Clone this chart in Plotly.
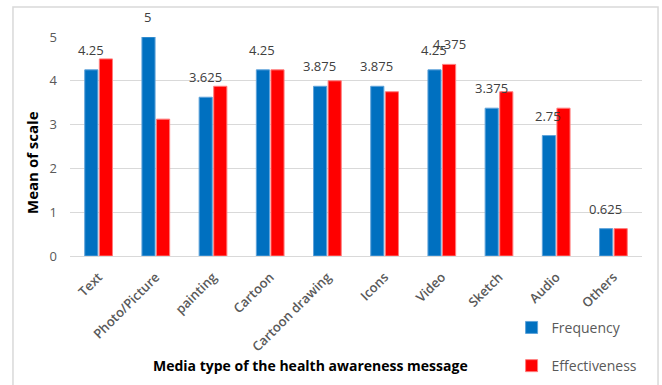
import plotly.graph_objects as go

categories = ["Text", "Photo/Picture", "painting", "Cartoon", "Cartoon drawing",
              "Icons", "Video", "Sketch", "Audio", "Others"]
frequency = [4.25, 5, 3.625, 4.25, 3.875, 3.875, 4.25, 3.375, 2.75, 0.625]
effectiveness = [4.5, 3.125, 3.875, 4.25, 4.0, 3.75, 4.375, 3.75, 3.375, 0.625]
effectiveness_labelled = ["Video"]
y_ticks = [0, 1, 2, 3, 4, 5]

FONT = "Open Sans, sans-serif"
GRAY = "#595959"

fig = go.Figure()
fig.add_trace(go.Bar(
    x=categories, y=frequency, name="Frequency", legendgroup="f",
    marker=dict(color="#0070C0", line=dict(color="#5FA3DA", width=1)),
))
fig.add_trace(go.Bar(
    x=categories, y=effectiveness, name="Effectiveness", legendgroup="e",
    marker=dict(color="#FF0000", line=dict(color="#FF7C7C", width=1)),
))

label_font = dict(family=FONT, size=13, color="#404040")
annotations = []
for c, v in zip(categories, frequency):
    annotations.append(dict(x=c, y=v, text=f"{v:g}", xshift=-8, yshift=20,
                            showarrow=False, yanchor="middle", font=label_font))
for c, v in zip(categories, effectiveness):
    if c in effectiveness_labelled:
        annotations.append(dict(x=c, y=v, text=f"{v:g}", xshift=8, yshift=20,
                                showarrow=False, yanchor="middle", font=label_font))

# axis titles
annotations.append(dict(
    xref="paper", yref="paper", x=0.42, y=-0.502, showarrow=False,
    text="<b>Media type of the health awareness message</b>",
    xanchor="center", yanchor="middle",
    font=dict(family=FONT, size=14, color="#000000"),
))
annotations.append(dict(
    xref="paper", yref="paper", x=-0.0664, y=0.425, showarrow=False,
    text="<b>Mean of scale</b>", textangle=-90,
    xanchor="center", yanchor="middle",
    font=dict(family=FONT, size=15, color="#000000"),
))

fig.update_layout(
    width=662, height=385,
    margin=dict(l=70, r=20, t=37, b=129, autoexpand=False),
    paper_bgcolor="white", plot_bgcolor="white",
    barmode="group", bargap=0.49, bargroupgap=0.1,
    font=dict(family=FONT, size=13, color=GRAY),
    annotations=annotations,
    showlegend=True,
    legend=dict(x=0.772, y=-0.255, xanchor="left", yanchor="top",
                tracegroupgap=17, itemwidth=30,
                font=dict(family=FONT, size=14, color=GRAY),
                bgcolor="rgba(0,0,0,0)"),
    shapes=[dict(type="rect", xref="paper", yref="paper",
                 x0=-0.0997, x1=1.028, y0=-0.62, y1=1.137,
                 line=dict(color="#D9D9D9", width=1.5), fillcolor="rgba(0,0,0,0)",
                 layer="below")],
)
fig.update_xaxes(
    tickangle=-45, showgrid=False, showline=False, ticks="", automargin=False,
    tickfont=dict(family=FONT, size=13, color=GRAY, weight=600), ticklabelstandoff=10,
)
fig.update_yaxes(
    range=[0, 5], tickvals=y_ticks, showgrid=True, gridcolor="#D9D9D9", gridwidth=1.2,
    zeroline=True, zerolinecolor="#D9D9D9", zerolinewidth=1.2, automargin=False,
    ticks="", tickfont=dict(family=FONT, size=13, color=GRAY), ticklabelstandoff=12,
)

fig.write_html("out.html")
